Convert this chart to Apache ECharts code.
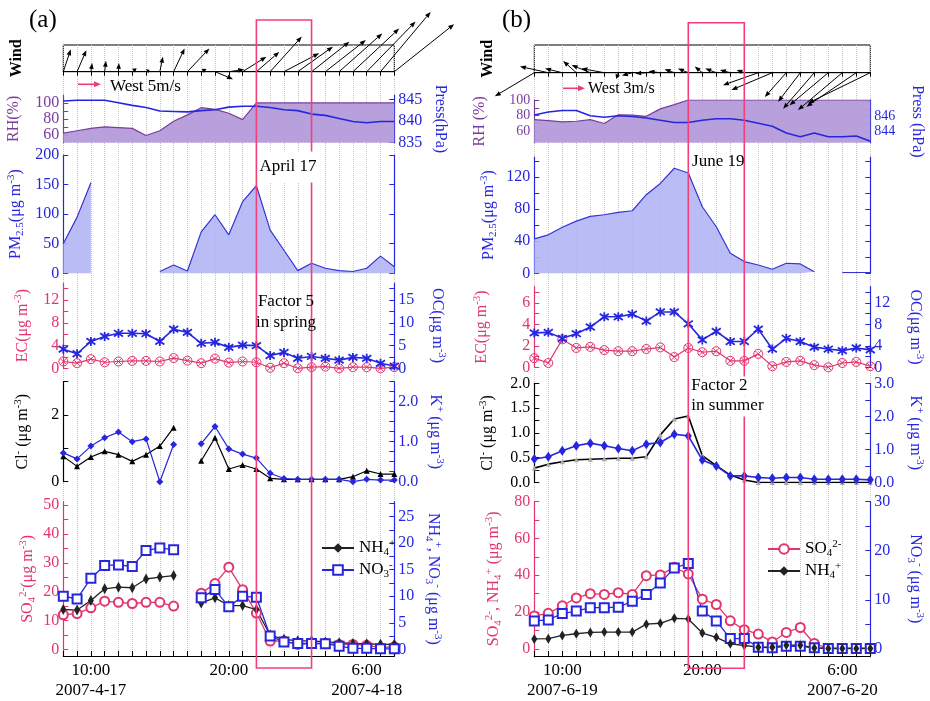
<!DOCTYPE html>
<html><head><meta charset="utf-8">
<script src="https://cdn.jsdelivr.net/npm/echarts@6/dist/echarts.min.js"></script>
<style>html,body{margin:0;padding:0;background:#fff}#c{width:930px;height:701px}</style>
</head><body><div id="c"></div>
<script>
// ---------------- DATA ----------------
const hours = ['8:00','9:00','10:00','11:00','12:00','13:00','14:00','15:00','16:00','17:00','18:00','19:00','20:00','21:00','22:00','23:00','0:00','1:00','2:00','3:00','4:00','5:00','6:00','7:00','8:00'];
const tickHours = ['10:00','20:00','6:00'];
const tickDatesA = ['2007-4-17','','2007-4-18'];
const tickDatesB = ['2007-6-19','','2007-6-20'];
const episodeA = ['22:00','2:00'];
const episodeB = ['19:00','23:00'];

// wind vectors (m/s): u eastward, v northward
const windUA = [1.7,2.1,0.3,0.3,0.1,1.0,0.8,0.7,2.5,5.0,1.2,4.1,3.5,5.4,5.2,7.2,8.0,8.0,8.6,9.2,9.8,10.5,11.1,11.4,13.6];
const windVA = [5.1,4.9,2.0,2.5,2.0,0.8,0.4,3.4,5.3,5.3,0.6,-1.7,0.5,3.4,4.5,8.0,4.2,5.7,6.8,7.2,8.7,9.8,11.4,13.6,10.8];
const windUB = [-5.7,-4.1,-2.5,-1.9,-2.7,-3.3,-0.3,-1.5,-1.6,-1.7,-1.4,-1.5,-1.1,-1.6,-1.5,-1.1,-5.1,-5.9,-3.1,-3.2,-4.5,-5.6,-6.4,-7.2,-9.0];
const windVB = [-3.4,0.9,0.6,1.7,1.1,0.6,-0.9,-0.4,-0.1,0.2,0.5,0.6,0.9,0.6,0.4,0.4,-1.8,-2.5,-3.5,-4.2,-5.2,-4.7,-5.4,-4.9,-4.4];

const rhA = [62,65,68,70,69,68,59,65,77,85,94,92,87,79,100,100,100,100,100,100,100,100,100,100,100];
const pressA = [844.6,844.8,844.8,844.8,844.2,843.6,843.1,842.3,842.2,842.1,842.4,842.6,843.2,843.4,843.4,843.1,842.6,842.4,841.6,841.3,840.6,839.9,839.6,839.9,839.9];
const pmA = [50,95,153,null,null,null,null,3,14,4,70,99,65,121,148,73,39,4.5,17,8.5,4.5,3,8.5,29,11];
const ecA = [1.2,0.9,1.6,1.06,1.2,1.3,1.3,1.2,1.8,1.35,0.9,1.7,1.0,1.2,1.06,0.1,0.9,0,0.2,0.3,0,0.2,0.2,0,0.2];
const ocA = [4.2,3.2,5.9,7.0,7.7,7.7,7.6,5.9,8.6,7.9,5.5,5.7,4.6,5.1,5.0,2.8,3.5,2.2,2.6,2.2,1.8,2.4,2.2,1.1,0.5];
const clA = [0.76,0.46,0.74,0.91,0.81,0.61,0.81,1.07,1.62,null,0.63,1.32,0.38,0.5,0.38,0.1,0.07,0.07,0.07,0.07,0.07,0.15,0.33,0.23,0.23];
const kA = [0.72,0.57,0.89,1.1,1.24,1.0,1.07,0,0.93,null,0.95,1.38,0.82,0.69,0.59,0.21,0.08,0.06,0.06,0.06,0.06,0,0.06,0.04,0.04];
const so4A = [12,12.4,14.4,16.7,16.3,15.9,16.3,16.3,15,null,19.5,22.8,28.5,20.7,12.6,2.9,2.9,1.7,2.1,2.1,1.7,1.7,1.4,0.6,0.9];
const nh4A = [7.5,7.4,9.2,11.4,11.7,11.6,13.25,13.6,13.9,null,8.75,9.7,8.25,8.25,7.5,2.7,1.9,1.6,1.6,1.4,1.25,1.1,1.06,0.94,0.94];
const no3A = [10,9.5,13.4,15.8,15.9,15.6,18.6,19.1,18.75,null,9.7,11.25,8,10,9.8,2.5,1.4,1.1,1.1,1.06,0.6,0.2,0.2,0.1,0.1];

const rhB = [74.7,73.5,71.8,72.6,74.7,69.7,81,80.6,79,88.6,94,100,100,100,100,100,100,100,100,100,100,100,100,100,100];
const pressB = [846.2,846.6,846.8,846.8,846.1,845.9,846.1,846.0,845.8,845.5,845.2,845.2,845.5,845.7,845.7,845.5,845.1,844.7,843.8,843.3,843.8,843.3,843.3,843.4,842.7];
const pmB = [43,48,57.5,65,71,73,76,78,98,112,131,125,83,58,25,14.6,10.4,5,12.5,11.7,2,null,1,1,1];
const ecB = [0.85,0.4,2.6,1.8,1.9,1.6,1.5,1.5,1.7,1.85,0.95,1.8,1.4,1.5,0.6,0.6,1.25,0.1,0.5,0.6,0.2,0,0.4,0.5,0.1];
const ocB = [6.4,6.5,5.4,6.25,7.5,9.4,9.4,9.9,8.6,10.3,10.3,8.1,5.1,6.7,4.8,4.8,7.1,3.4,5.4,4.8,3.75,3.4,3.1,3.6,3.25];
const clB = [0.29,0.37,0.42,0.46,0.47,0.48,0.49,0.49,0.52,0.96,1.28,1.34,0.54,0.34,0.15,0.05,0,0,0,0,0,0,0,0,0];
const kB = [0.71,0.78,0.96,1.11,1.19,1.11,1.03,0.96,1.16,1.21,1.46,1.41,0.68,0.5,0.2,0.2,0.15,0.13,0.15,0.15,0.1,0.1,0.1,0.1,0.08];
const so4B = [17.9,19.3,23.4,27.7,30,29.6,30.5,29.6,39.8,40.2,44.3,40.7,27,24.1,15.2,10.4,8,3.75,8.9,11.6,2.9,0.2,0.2,0.2,0.2];
const nh4B = [5.4,5.5,7.3,8.2,8.9,9.1,9.1,9.1,13.4,13.9,16.6,16.25,8.6,6.25,2.7,1.8,0.9,0.9,2,2,0.5,0.2,0.2,0.2,0.2];
const no3B = [5.7,5.9,7.2,7.7,8.4,8.4,8.5,9.7,11.1,13.4,16.5,17.4,7.7,5.7,2.1,2.1,0.33,0.2,0.53,0.53,0.2,0.07,0.07,0.07,0.07];

// ---------------- STYLE ----------------
const FONT = '"Liberation Serif","Times New Roman",serif';
const PINK = '#e2356d', BLUE = '#2626de', PURPLE = '#7a3c9c', BLACK = '#000';
const RECT = '#f23f7c';

const grids = [], xAxes = [], yAxes = [], series = [];
function range(a, b, s) { const r = []; for (let v = a; v <= b + 1e-9; v += s) r.push(+v.toFixed(4)); return r; }
function nameStyle(color, size, bold) {
  const sub = {fontSize: 11, lineHeight: 10, verticalAlign: 'bottom', color, fontFamily: FONT};
  const sup = {fontSize: 11, lineHeight: 10, verticalAlign: 'top', color, fontFamily: FONT};
  return {color, fontFamily: FONT, fontSize: size || 16, fontWeight: bold ? 'bold' : 'normal', lineHeight: 20, rich: {sub, sup}};
}
function addGrid(left, width, top, bottom, gridExtra, xExtra) {
  grids.push(Object.assign({left, width, top, height: bottom - top}, gridExtra || {}));
  const gi = grids.length - 1;
  xAxes.push(Object.assign({gridIndex: gi, type: 'category', data: hours, boundaryGap: false,
    axisLine: {show: false}, axisTick: {show: false}, axisLabel: {show: false}, splitLine: {show: false}}, xExtra || {}));
  return gi;
}
function addY(gi, o) {
  const ls = o.labelSize || 16;
  yAxes.push({gridIndex: gi, type: 'value', position: o.pos, min: o.min, max: o.max,
    axisLine: {show: o.line !== false, onZero: false, lineStyle: {color: o.color, width: 1.2}},
    axisTick: {show: !!o.ticks, inside: true, length: 5, customValues: o.ticks, lineStyle: {color: o.color, width: 1}},
    axisLabel: Object.assign({show: !!o.labels, customValues: o.labels, color: o.color, fontFamily: FONT, fontSize: ls,
      lineHeight: ls - 3, margin: 4, hideOverlap: false, showMinLabel: true, showMaxLabel: true},
      o.fmt ? {formatter: o.fmt} : {}),
    splitLine: {show: false},
    name: o.name, nameLocation: 'middle', nameGap: o.gap, nameRotate: o.pos === 'left' ? 90 : -90,
    nameTextStyle: nameStyle(o.nameColor || o.color, o.nameSize, o.bold)
  });
  return yAxes.length - 1;
}
const f1 = v => v.toFixed(1);

function windItem(params, api) {
  const i = api.value(0), u = api.value(1), v = api.value(2);
  const p0 = api.coord([i, 0]);
  const s = api.size([0, 1])[1];
  const x1 = p0[0] + u * s, y1 = p0[1] - v * s;
  const len = Math.hypot(x1 - p0[0], y1 - p0[1]);
  if (len < 0.5) return;
  const ux = (x1 - p0[0]) / len, uy = (y1 - p0[1]) / len;
  const h = Math.min(6, len * 0.7), w = 2.3;
  const bx = x1 - ux * h, by = y1 - uy * h;
  return {type: 'group', children: [
    {type: 'line', shape: {x1: p0[0], y1: p0[1], x2: bx, y2: by}, style: {stroke: '#000', lineWidth: 1}},
    {type: 'polygon', shape: {points: [[x1, y1], [bx - uy * w, by + ux * w], [bx + uy * w, by - ux * w]]}, style: {fill: '#000'}}
  ]};
}

const SYM_ECX = 'path://M10 0A10 10 0 1 1 -10 0A10 10 0 1 1 10 0ZM-7 -7L7 7M7 -7L-7 7';
const SYM_AST = 'path://M0 -10L0 10M-8.5 -7L8.5 7M8.5 -7L-8.5 7';

function line(name, data, gi, yi, color, o) {
  return Object.assign({name, type: 'line', data, xAxisIndex: gi, yAxisIndex: yi, connectNulls: false, showAllSymbol: true,
    symbol: 'none', lineStyle: {width: 1.2, color}, itemStyle: {color}, z: 3}, o || {});
}

function buildPanel(c) {
  const L = c.left, W = c.width, g = {};
  g.bg = addGrid(L, W, c.bg[0], c.bg[1], {}, {splitLine: {show: true, interval: 0, lineStyle: {type: 'dotted', color: '#c4c4c4', width: 1}}});
  yAxes.push({gridIndex: g.bg, show: false, min: 0, max: 1});
  g.wind = addGrid(L, W, c.wind[0], c.wind[1], {show: true, borderColor: '#000', borderWidth: 1, backgroundColor: 'transparent'},
    {position: 'top', axisLine: {show: true, lineStyle: {color: '#000', width: 1}}, axisTick: {show: true, inside: true, length: 4, interval: 0, lineStyle: {color: '#000'}}});
  const yw = addY(g.wind, {pos: 'left', min: 0, max: c.windMax, color: BLACK, line: false, name: 'Wind', gap: c.gaps.wind, bold: true});
  series.push({type: 'custom', xAxisIndex: g.wind, yAxisIndex: yw, renderItem: windItem, clip: false, silent: true, z: 6,
    encode: {x: 0, y: 2}, data: c.windU.map((u, i) => [i, u, c.windV[i]])});
  g.rh = addGrid(L, W, c.rh[0], c.rh[1]);
  const yrh = addY(g.rh, Object.assign({pos: 'left', color: PURPLE, name: c.rhName, gap: c.gaps.rh}, c.rhAxis));
  const ypr = addY(g.rh, Object.assign({pos: 'right', color: BLUE, name: c.prName, gap: c.gaps.pr}, c.prAxis));
  series.push(line('RH' + c.k, c.rhData, g.rh, yrh, PURPLE, {areaStyle: {color: '#b39bd9', opacity: 0.95}, lineStyle: {width: 1.2, color: PURPLE}}));
  series.push(line('P' + c.k, c.prData, g.rh, ypr, BLUE, {lineStyle: {width: 1.6, color: BLUE}}));
  g.pm = addGrid(L, W, c.pm[0], c.pm[1]);
  const ypm = addY(g.pm, Object.assign({pos: 'left', color: BLUE, name: 'PM{sub|2.5}(μg m{sup|-3})', gap: c.gaps.pm}, c.pmAxis));
  addY(g.pm, {pos: 'right', color: BLUE, min: c.pmAxis.min, max: c.pmAxis.max, ticks: c.pmAxis.ticks});
  series.push(line('PM' + c.k, c.pmData, g.pm, ypm, '#3434d2', {areaStyle: {color: '#b3b6f4', opacity: 0.9}}));
  g.ec = addGrid(L, W, c.ec[0], c.ec[1]);
  const yec = addY(g.ec, Object.assign({pos: 'left', color: PINK, name: 'EC(μg m{sup|-3})', gap: c.gaps.ec}, c.ecAxis));
  const yoc = addY(g.ec, Object.assign({pos: 'right', color: BLUE, name: 'OC(μg m{sup|-3})', gap: c.gaps.oc}, c.ocAxis));
  series.push(line('EC' + c.k, c.ecData, g.ec, yec, PINK, {symbol: SYM_ECX, symbolSize: 9, lineStyle: {width: 1.2, color: PINK}, itemStyle: {color: 'transparent', borderColor: PINK, borderWidth: 1}}));
  series.push(line('OC' + c.k, c.ocData, g.ec, yoc, BLUE, {symbol: SYM_AST, symbolSize: 9, lineStyle: {width: 1.6, color: BLUE}, itemStyle: {color: BLUE, borderColor: BLUE, borderWidth: 1.8}}));
  g.cl = addGrid(L, W, c.cl[0], c.cl[1]);
  const ycl = addY(g.cl, Object.assign({pos: 'left', color: BLACK, name: 'Cl{sup|-} (μg m{sup|-3})', gap: c.gaps.cl}, c.clAxis));
  const yk = addY(g.cl, Object.assign({pos: 'right', color: BLUE, name: 'K{sup|+} (μg m{sup|-3})', gap: c.gaps.k, fmt: f1}, c.kAxis));
  series.push(line('Cl' + c.k, c.clData, g.cl, ycl, BLACK, c.clStyle));
  series.push(line('K' + c.k, c.kData, g.cl, yk, BLUE, c.kStyle));
  g.so = addGrid(L, W, c.so[0], c.so[1], {}, {position: 'bottom',
    axisLine: {show: true, onZero: false, lineStyle: {color: '#000', width: 1.2}},
    axisTick: {show: true, inside: true, length: 5, interval: 0, lineStyle: {color: '#000'}},
    axisLabel: {show: true, interval: (idx, val) => tickHours.indexOf(val) >= 0,
      formatter: val => { const j = tickHours.indexOf(val); return c.dates[j] ? val + '\n' + c.dates[j] : val; },
      color: '#000', fontFamily: FONT, fontSize: 17, lineHeight: 20, margin: 5}});
  const yso = addY(g.so, Object.assign({pos: 'left', color: PINK, name: c.soName, gap: c.gaps.so}, c.soAxis));
  const yno = addY(g.so, Object.assign({pos: 'right', color: BLUE, name: c.noName, gap: c.gaps.no}, c.noAxis));
  c.soSeries(g.so, yso, yno);
  return g;
}

const pA = buildPanel({k: 'A', left: 63.3, width: 331, dates: tickDatesA,
  bg: [45, 656.7], wind: [45, 71.7], rh: [95, 142.7], pm: [155, 273.3], ec: [283, 368.3], cl: [381.7, 481.7], so: [501.7, 656.7],
  windMax: 6.07, windU: windUA, windV: windVA,
  gaps: {wind: 36, rh: 40, pr: 36, pm: 38, ec: 31, oc: 33, cl: 31, k: 31, so: 26, no: 29},
  rhName: 'RH(%)', prName: 'Press(hPa)',
  rhAxis: {min: 50, max: 110, ticks: [60, 70, 80, 90, 100], labels: [60, 80, 100]}, rhData: rhA,
  prAxis: {min: 835, max: 846, ticks: [835, 840, 845], labels: [835, 840, 845]}, prData: pressA,
  pmAxis: {min: 0, max: 200, ticks: range(0, 200, 50), labels: range(0, 200, 50)}, pmData: pmA,
  ecAxis: {min: 0, max: 15, ticks: range(0, 14, 2), labels: [0, 4, 8, 12]}, ecData: ecA,
  ocAxis: {min: 0, max: 18.75, ticks: range(0, 17.5, 2.5), labels: [0, 5, 10, 15]}, ocData: ocA,
  clAxis: {min: 0, max: 3, ticks: [0, 1, 2, 3], labels: [0, 2]}, clData: clA,
  kAxis: {min: 0, max: 2.5, ticks: range(0, 2.5, 0.25), labels: [0, 1, 2]}, kData: kA,
  clStyle: {symbol: 'triangle', symbolSize: 6, lineStyle: {width: 1.2, color: BLACK}},
  kStyle: {symbol: 'diamond', symbolSize: 7, lineStyle: {width: 1.2, color: BLUE}},
  soName: 'SO{sub|4}{sup|2-}(μg m{sup|-3})', noName: 'NH{sub|4}{sup|+}, NO{sub|3}{sup|-} (μg m{sup|-3})',
  soAxis: {min: -2.3, max: 51.2, ticks: range(0, 50, 5), labels: range(0, 50, 10)},
  noAxis: {min: -1.25, max: 27.8, ticks: range(0, 27.5, 2.5), labels: range(0, 25, 5)},
  soSeries: (gi, yl, yr) => {
    series.push(line('SO4A', so4A, gi, yl, PINK, {symbol: 'emptyCircle', symbolSize: 9, lineStyle: {width: 1.3, color: PINK}, itemStyle: {color: PINK, borderWidth: 1.2}}));
    series.push(line('NH4A', nh4A, gi, yr, BLACK, {symbol: 'diamond', symbolSize: [6, 11], lineStyle: {width: 1.3, color: '#222'}, itemStyle: {color: '#222'}}));
    series.push(line('NO3A', no3A, gi, yr, BLUE, {symbol: 'emptyRect', symbolSize: 9, lineStyle: {width: 1.3, color: BLUE}, itemStyle: {color: BLUE, borderWidth: 1.2}}));
  }
});

const pB = buildPanel({k: 'B', left: 534.3, width: 336, dates: tickDatesB,
  bg: [45, 658.3], wind: [45, 72.7], rh: [100, 142.7], pm: [157, 273.3], ec: [286.7, 367.3], cl: [383.3, 482.5], so: [501.7, 658.3],
  windMax: 4.0, windU: windUB, windV: windVB,
  gaps: {wind: 36, rh: 45, pr: 37, pm: 36, ec: 43, oc: 35, cl: 37, k: 35, so: 31, no: 35},
  rhName: 'RH (%)', prName: 'Press (hPa)',
  rhAxis: {min: 45, max: 100, ticks: [50, 60, 70, 80, 90, 100], labels: [60, 80, 100], labelSize: 14}, rhData: rhB,
  prAxis: {min: 842.5, max: 848.2, ticks: [843, 844, 845, 846, 847, 848], labels: [844, 846], labelSize: 14}, prData: pressB,
  pmAxis: {min: 0, max: 145, ticks: range(0, 140, 20), labels: [0, 40, 80, 120]}, pmData: pmB,
  ecAxis: {min: 0, max: 7.5, ticks: range(0, 7, 1), labels: [0, 2, 4, 6]}, ecData: ecB,
  ocAxis: {min: 0, max: 15, ticks: range(0, 14, 2), labels: [0, 4, 8, 12]}, ocData: ocB,
  clAxis: {min: 0, max: 2, ticks: range(0, 2, 0.25), labels: range(0, 2, 0.5), fmt: f1}, clData: clB,
  kAxis: {min: 0, max: 3, ticks: range(0, 3, 0.5), labels: [0, 1, 2, 3]}, kData: kB,
  clStyle: {symbol: 'triangle', symbolSize: 5, lineStyle: {width: 1.6, color: BLACK}, itemStyle: {color: '#aaaaaa'}},
  kStyle: {symbol: 'diamond', symbolSize: [7, 10], lineStyle: {width: 1.6, color: BLUE}},
  soName: 'SO{sub|4}{sup|2-}, NH{sub|4}{sup|+} (μg m{sup|-3})', noName: 'NO{sub|3}{sup|-} (μg m{sup|-3})',
  soAxis: {min: -3.9, max: 80, ticks: range(0, 80, 10), labels: range(0, 80, 20)},
  noAxis: {min: -1.46, max: 30, ticks: range(0, 30, 5), labels: [0, 10, 20, 30]},
  soSeries: (gi, yl, yr) => {
    series.push(line('SO4B', so4B, gi, yl, PINK, {symbol: 'emptyCircle', symbolSize: 9, lineStyle: {width: 1.3, color: PINK}, itemStyle: {color: PINK, borderWidth: 1.2}}));
    series.push(line('NO3B', no3B, gi, yr, BLUE, {symbol: 'emptyRect', symbolSize: 9, lineStyle: {width: 1.3, color: BLUE}, itemStyle: {color: BLUE, borderWidth: 1.2}}));
    series.push(line('NH4B', nh4B, gi, yl, BLACK, {symbol: 'diamond', symbolSize: [6, 10], lineStyle: {width: 1.3, color: '#222'}, itemStyle: {color: '#222'}}));
  }
});

const legendNames = {NH4A: 'NH{sub|4}{sup|+}', NO3A: 'NO{sub|3}{sup|-}', SO4B: 'SO{sub|4}{sup|2-}', NH4B: 'NH{sub|4}{sup|+}'};
function legendCfg(data, left, top) {
  return {data, left, top, padding: 0, orient: 'vertical', itemWidth: 32, itemHeight: 12, itemGap: 2, selectedMode: false,
    formatter: n => legendNames[n],
    textStyle: {fontFamily: FONT, fontSize: 17, color: '#000', lineHeight: 20,
      rich: {sub: {fontSize: 11, lineHeight: 10, verticalAlign: 'bottom', fontFamily: FONT},
             sup: {fontSize: 11, lineHeight: 10, verticalAlign: 'top', fontFamily: FONT}}}};
}

const chart = echarts.init(document.getElementById('c'));
chart.setOption({
  animation: false, backgroundColor: '#fff',
  grid: grids, xAxis: xAxes, yAxis: yAxes, series,
  legend: [legendCfg(['NH4A', 'NO3A'], 321, 538), legendCfg(['SO4B', 'NH4B'], 767, 539)]
});

// ---------- annotations ----------
const TF = s => s + 'px ' + FONT;
function txt(text, x, y, size, align, extra) {
  return {type: 'text', x, y, z: 120, style: Object.assign({text, fill: '#000', font: TF(size), align: align || 'left', textAlign: align || 'left', verticalAlign: 'middle', textVerticalAlign: 'middle'}, extra || {})};
}
function arrow(x0, y0, x1, y1, color) {
  return {type: 'group', z: 110, children: [
    {type: 'line', shape: {x1: x0, y1: y0, x2: x1 - 6, y2: y1}, style: {stroke: color, lineWidth: 1.6}},
    {type: 'polygon', shape: {points: [[x1, y1], [x1 - 7, y1 - 3], [x1 - 7, y1 + 3]]}, style: {fill: color}}
  ]};
}
const pxA = i => chart.convertToPixel({xAxisIndex: pA.so}, i);
const pxB = i => chart.convertToPixel({xAxisIndex: pB.so}, i);
const ra0 = pxA(hours.indexOf(episodeA[0])), ra1 = pxA(hours.indexOf(episodeA[1]));
const rb0 = pxB(hours.indexOf(episodeB[0])), rb1 = pxB(hours.indexOf(episodeB[1]));
const graphics = [
  {type: 'rect', z: 100, shape: {x: ra0, y: 20, width: ra1 - ra0, height: 648}, style: {fill: 'none', stroke: RECT, lineWidth: 1.6}},
  {type: 'rect', z: 100, shape: {x: rb0, y: 22.7, width: rb1 - rb0, height: 645.5}, style: {fill: 'none', stroke: RECT, lineWidth: 1.6}},
  txt('(a)', 29, 20, 25), txt('(b)', 502, 20, 25),
  arrow(78, 84.3, 101, 84.3, '#ee3c78'), txt('West 5m/s', 110, 87, 17),
  arrow(563, 88.3, 585, 88.3, '#ee3c78'), txt('West 3m/s', 588, 88.5, 16),
  txt('April 17', ra0 + 3, 167, 17, 'left', {backgroundColor: '#fff', padding: [6, 4, 8, 0]}),
  txt('Factor 5', (ra0 + ra1) / 2 + 2, 302, 17, 'center'),
  txt('in spring', (ra0 + ra1) / 2 + 2, 323, 17, 'center'),
  txt('June 19', (rb0 + rb1) / 2 + 2, 162, 17, 'center'),
  txt('Factor 2', rb0 + 3, 386, 17, 'left', {backgroundColor: '#fff', padding: [2, 4, 0, 0]}),
  txt('in summer', rb0 + 3, 406, 17, 'left', {backgroundColor: '#fff', padding: [0, 4, 4, 0]})
];
chart.setOption({graphic: graphics});
</script></body></html>
